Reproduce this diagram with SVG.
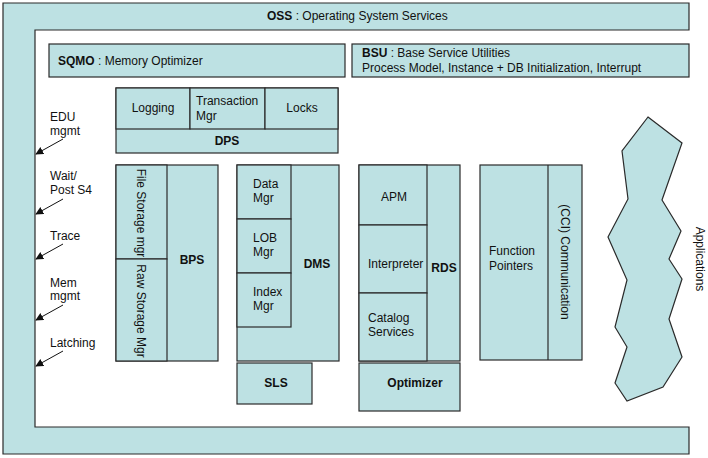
<svg xmlns="http://www.w3.org/2000/svg" width="708" height="458" viewBox="0 0 708 458">
<style>
.b{fill:#bde1e3;stroke:#2a2a2a;stroke-width:1.2}
.t{font-family:"Liberation Sans",Arial,sans-serif;font-size:12px;fill:#111}
.bd{font-weight:bold}
.m{text-anchor:middle}
.c{stroke:#111;stroke-width:1;fill:none;marker-end:url(#ah)}
</style>
<defs>
<marker id="ah" viewBox="0 0 10 10" refX="9" refY="5" markerWidth="8" markerHeight="8" markerUnits="userSpaceOnUse" orient="auto">
<path d="M0,0 L10,5 L0,10 Z" fill="#111"/>
</marker>
</defs>
<rect width="708" height="458" fill="#fff"/>
<g id="oss">
<path class="b" d="M3,3 H689 V30 H35 V427 H689 V454 H3 Z"/>
<text class="t" x="267" y="20"><tspan class="bd">OSS</tspan> : Operating System Services</text>
</g>
<g id="sqmo">
<rect class="b" x="49" y="44" width="296" height="33"/>
<text class="t" x="58" y="65"><tspan class="bd">SQMO</tspan> : Memory Optimizer</text>
</g>
<g id="bsu">
<rect class="b" x="352" y="44" width="337" height="33"/>
<text class="t" x="362" y="57"><tspan class="bd">BSU</tspan> : Base Service Utilities</text>
<text class="t" x="362" y="72">Process Model, Instance + DB Initialization, Interrupt</text>
</g>
<g id="dps">
<rect class="b" x="116" y="88" width="222" height="65"/>
<rect class="b" x="116" y="88" width="74" height="41"/>
<rect class="b" x="190" y="88" width="75" height="41"/>
<rect class="b" x="265" y="88" width="73" height="41"/>
<text class="t m" x="153" y="112">Logging</text>
<text class="t" x="196" y="105">Transaction</text>
<text class="t" x="196" y="120">Mgr</text>
<text class="t m" x="302" y="112">Locks</text>
<text class="t bd m" x="227" y="145">DPS</text>
</g>
<g id="bps">
<rect class="b" x="116" y="165" width="102" height="196"/>
<rect class="b" x="116" y="165" width="51" height="94"/>
<rect class="b" x="116" y="259" width="51" height="102"/>
<text class="t m" transform="translate(141,213) rotate(90)" y="4">File Storage mgr</text>
<text class="t m" transform="translate(141,311) rotate(90)" y="4">Raw Storage Mgr</text>
<text class="t bd m" x="192" y="264">BPS</text>
</g>
<g id="dms">
<rect class="b" x="237" y="165" width="102" height="196"/>
<rect class="b" x="237" y="165" width="54" height="54"/>
<rect class="b" x="237" y="219" width="54" height="54"/>
<rect class="b" x="237" y="273" width="54" height="54"/>
<text class="t" x="253" y="188">Data</text>
<text class="t" x="253" y="202">Mgr</text>
<text class="t" x="253" y="242">LOB</text>
<text class="t" x="253" y="256">Mgr</text>
<text class="t" x="253" y="296">Index</text>
<text class="t" x="253" y="310">Mgr</text>
<text class="t bd m" x="317" y="268">DMS</text>
</g>
<g id="sls">
<rect class="b" x="237" y="363" width="75" height="41"/>
<text class="t bd m" x="276" y="387">SLS</text>
</g>
<g id="rds">
<rect class="b" x="359" y="165" width="101" height="196"/>
<rect class="b" x="359" y="165" width="68" height="60"/>
<rect class="b" x="359" y="225" width="68" height="68"/>
<rect class="b" x="359" y="293" width="68" height="68"/>
<text class="t m" x="394" y="201">APM</text>
<text class="t" x="368" y="268">Interpreter</text>
<text class="t" x="368" y="322">Catalog</text>
<text class="t" x="368" y="336">Services</text>
<text class="t bd m" x="444" y="272">RDS</text>
</g>
<g id="optimizer">
<rect class="b" x="359" y="363" width="101" height="48"/>
<text class="t bd m" x="415" y="387">Optimizer</text>
</g>
<g id="cci">
<rect class="b" x="480" y="165" width="102" height="195"/>
<line x1="548" y1="165" x2="548" y2="360" stroke="#2a2a2a" stroke-width="1.2"/>
<text class="t" x="489" y="255">Function</text>
<text class="t" x="489" y="270">Pointers</text>
<text class="t m" transform="translate(565,262) rotate(90)" y="4">(CCI) Communication</text>
</g>
<g id="applications">
<path class="b" d="M648,117 L682,143 L662,200 L681,231 L669,259 L682,279 L669,319 L682,357 L663,387 L627,401 L615,383 L627,347 L615,327 L627,280 L608,237 L628,199 L622,151 Z"/>
<text class="t m" transform="translate(700,259) rotate(90)" y="4">Applications</text>
</g>
<g id="labels">
<text class="t" x="50" y="121">EDU</text>
<text class="t" x="50" y="135">mgmt</text>
<text class="t" x="50" y="180">Wait/</text>
<text class="t" x="50" y="194">Post S4</text>
<text class="t" x="50" y="240">Trace</text>
<text class="t" x="50" y="287">Mem</text>
<text class="t" x="50" y="300">mgmt</text>
<text class="t" x="50" y="347">Latching</text>
</g>
<g id="connectors">
<line class="c" x1="63" y1="139" x2="36" y2="154"/>
<line class="c" x1="63" y1="199" x2="36" y2="214"/>
<line class="c" x1="63" y1="244" x2="36" y2="259"/>
<line class="c" x1="63" y1="305" x2="36" y2="320"/>
<line class="c" x1="63" y1="351" x2="36" y2="366"/>
</g>
</svg>
